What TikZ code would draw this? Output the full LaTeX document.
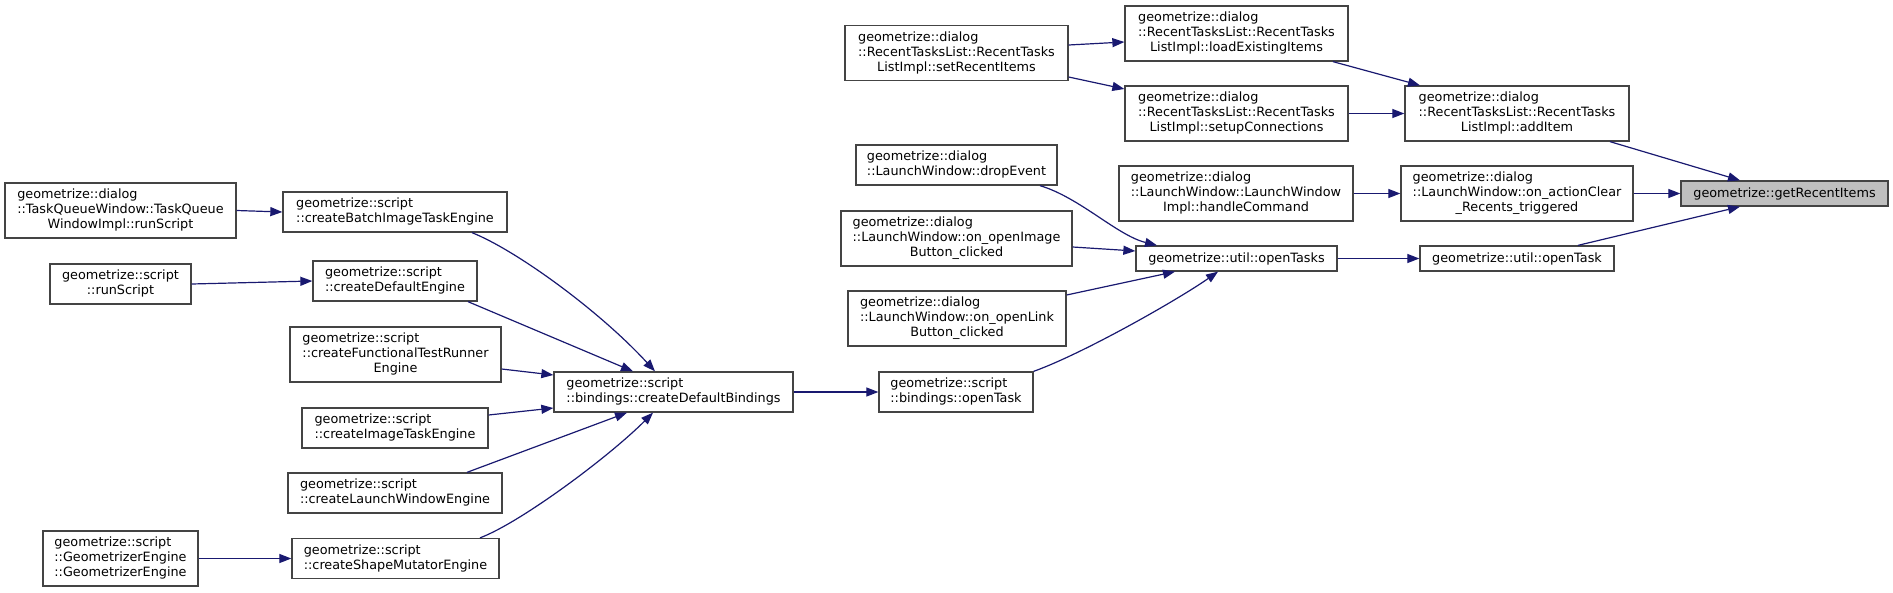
\documentclass[tikz,border=0pt]{standalone}
\usepackage{fontspec}
\setmainfont{DejaVu Sans}
\usetikzlibrary{arrows.meta}
\definecolor{edgecol}{HTML}{191970}
\definecolor{boxcol}{HTML}{444444}
\definecolor{focuscol}{HTML}{BFBFBF}
\newcommand{\fnfont}{\fontsize{12.8pt}{15pt}\selectfont}
\newcommand{\twoln}[2]{\begin{tabular}{@{}l@{}}#1\\\multicolumn{1}{@{}c@{}}{#2}\end{tabular}}
\newcommand{\threeln}[3]{\begin{tabular}{@{}l@{}}#1\\#2\\\multicolumn{1}{@{}c@{}}{#3}\end{tabular}}
\tikzset{
  fnbox/.style={rectangle, draw=boxcol, fill=white, line width=1.3pt,
                inner sep=0pt, font=\fnfont},
  fnbox 1/.style={fnbox, minimum height=25pt},
  fnbox 2/.style={fnbox, minimum height=40pt},
  fnbox 3/.style={fnbox, minimum height=55pt},
  focus box/.style={fnbox 1, fill=focuscol},
  arr/.style={-{Triangle[length=12pt, width=9pt]}, line width=1.2pt, edgecol},
}

\begin{document}
\begin{tikzpicture}[x=1pt, y=1pt]
    \path[use as bounding box] (0,0) rectangle (1893,-592);

    % callers of the engines
    \node[fnbox 3, minimum width=231pt] (taskQueue) at (120.5,-210.5) {\threeln{geometrize::dialog}{::TaskQueueWindow::TaskQueue}{WindowImpl::runScript}};
    \node[fnbox 2, minimum width=141pt] (runScript) at (120.5,-284) {\twoln{geometrize::script}{::runScript}};
    \node[fnbox 3, minimum width=155pt] (geomEngine) at (120.5,-558.5) {\threeln{geometrize::script}{::GeometrizerEngine}{::GeometrizerEngine}};

    % engines
    \node[fnbox 2, minimum width=224pt] (batchEngine) at (395,-212) {\twoln{geometrize::script}{::createBatchImageTaskEngine}};
    \node[fnbox 2, minimum width=164pt] (defaultEngine) at (395,-281) {\twoln{geometrize::script}{::createDefaultEngine}};
    \node[fnbox 3, minimum width=211pt] (testEngine) at (395.5,-354.5) {\threeln{geometrize::script}{::createFunctionalTestRunner}{Engine}};
    \node[fnbox 2, minimum width=186pt] (imageEngine) at (395,-428) {\twoln{geometrize::script}{::createImageTaskEngine}};
    \node[fnbox 2, minimum width=214pt] (launchEngine) at (395,-493) {\twoln{geometrize::script}{::createLaunchWindowEngine}};
    \node[fnbox 2, minimum width=207pt] (shapeEngine) at (395.5,-558.5) {\twoln{geometrize::script}{::createShapeMutatorEngine}};

    \node[fnbox 2, minimum width=239pt] (bindings) at (673.5,-392) {\twoln{geometrize::script}{::bindings::createDefaultBindings}};
    \node[fnbox 2, minimum width=154pt] (bindOpenTask) at (956,-392) {\twoln{geometrize::script}{::bindings::openTask}};

    % dialog column
    \node[fnbox 3, minimum width=223pt] (setItems) at (956.5,-53) {\threeln{geometrize::dialog}{::RecentTasksList::RecentTasks}{ListImpl::setRecentItems}};
    \node[fnbox 2, minimum width=201pt] (dropEvent) at (956.5,-165) {\twoln{geometrize::dialog}{::LaunchWindow::dropEvent}};
    \node[fnbox 3, minimum width=231pt] (imageBtn) at (956.5,-238.5) {\threeln{geometrize::dialog}{::LaunchWindow::on\_openImage}{Button\_clicked}};
    \node[fnbox 3, minimum width=218pt] (linkBtn) at (957,-318.5) {\threeln{geometrize::dialog}{::LaunchWindow::on\_openLink}{Button\_clicked}};

    \node[fnbox 3, minimum width=223pt] (loadItems) at (1236.5,-33.5) {\threeln{geometrize::dialog}{::RecentTasksList::RecentTasks}{ListImpl::loadExistingItems}};
    \node[fnbox 3, minimum width=223pt] (setupConn) at (1236.5,-113.5) {\threeln{geometrize::dialog}{::RecentTasksList::RecentTasks}{ListImpl::setupConnections}};
    \node[fnbox 3, minimum width=234pt] (handleCmd) at (1236,-193.5) {\threeln{geometrize::dialog}{::LaunchWindow::LaunchWindow}{Impl::handleCommand}};
    \node[fnbox 1, minimum width=201pt] (openTasks) at (1236.5,-258.5) {geometrize::util::openTasks};

    \node[fnbox 3, minimum width=224pt] (addItem) at (1517,-113.5) {\threeln{geometrize::dialog}{::RecentTasksList::RecentTasks}{ListImpl::addItem}};
    \node[fnbox 3, minimum width=232pt] (clearRecents) at (1517,-193.5) {\threeln{geometrize::dialog}{::LaunchWindow::on\_actionClear}{\_Recents\_triggered}};
    \node[fnbox 1, minimum width=194pt] (utilOpenTask) at (1517,-258.5) {geometrize::util::openTask};

    \node[focus box, minimum width=207pt] (recentItems) at (1784.5,-193.5) {geometrize::getRecentItems};

    \draw[arr] (taskQueue.east) -- (batchEngine.west);
    \draw[arr] (runScript.east) -- (defaultEngine.west);
    \draw[arr] (geomEngine.east) -- (shapeEngine.west);
    \draw[arr] ([xshift=77pt]batchEngine.south) .. controls +(45,-18) and +(-55,60) .. ([xshift=-18.5pt]bindings.north);
    \draw[arr] ([xshift=73pt]defaultEngine.south) -- ([xshift=-40.5pt]bindings.north);
    \draw[arr] ([yshift=-14.5pt]testEngine.east) -- ([yshift=17pt]bindings.west);
    \draw[arr] ([yshift=13pt]imageEngine.east) -- ([yshift=-16pt]bindings.west);
    \draw[arr] ([xshift=72pt]launchEngine.north) -- ([xshift=-46.5pt]bindings.south);
    \draw[arr] ([xshift=84.5pt]shapeEngine.north) .. controls +(40,15) and +(-45,-45) .. ([xshift=-20.5pt]bindings.south);
    \draw[arr] (bindings.east) -- (bindOpenTask.west);

    \draw[arr] (bindOpenTask.north east) .. controls +(50,18) and +(-40,-28) .. ([xshift=-18.5pt]openTasks.south);
    \draw[arr] ([yshift=23.5pt]linkBtn.east) -- ([xshift=-61.5pt]openTasks.south);
    \draw[arr] ([yshift=-8.5pt]imageBtn.east) -- ([yshift=7.5pt]openTasks.west);
    \draw[arr] ([xshift=83.5pt]dropEvent.south) .. controls +(40,-12) and +(-40,10) .. ([xshift=-79.5pt]openTasks.north);
    \draw[arr] (openTasks.east) -- (utilOpenTask.west);

    \draw[arr] ([yshift=8pt]setItems.east) -- ([yshift=-8.5pt]loadItems.west);
    \draw[arr] ([yshift=-24pt]setItems.east) -- ([yshift=24.5pt]setupConn.west);
    \draw[arr] ([xshift=96.5pt]loadItems.south) -- ([xshift=-97pt]addItem.north);
    \draw[arr] (setupConn.east) -- (addItem.west);
    \draw[arr] (handleCmd.east) -- (clearRecents.west);

    \draw[arr] ([xshift=93pt]addItem.south) -- ([xshift=-44.5pt]recentItems.north);
    \draw[arr] (clearRecents.east) -- (recentItems.west);
    \draw[arr] ([xshift=61pt]utilOpenTask.north) -- ([xshift=-44.5pt]recentItems.south);
\end{tikzpicture}
\end{document}
